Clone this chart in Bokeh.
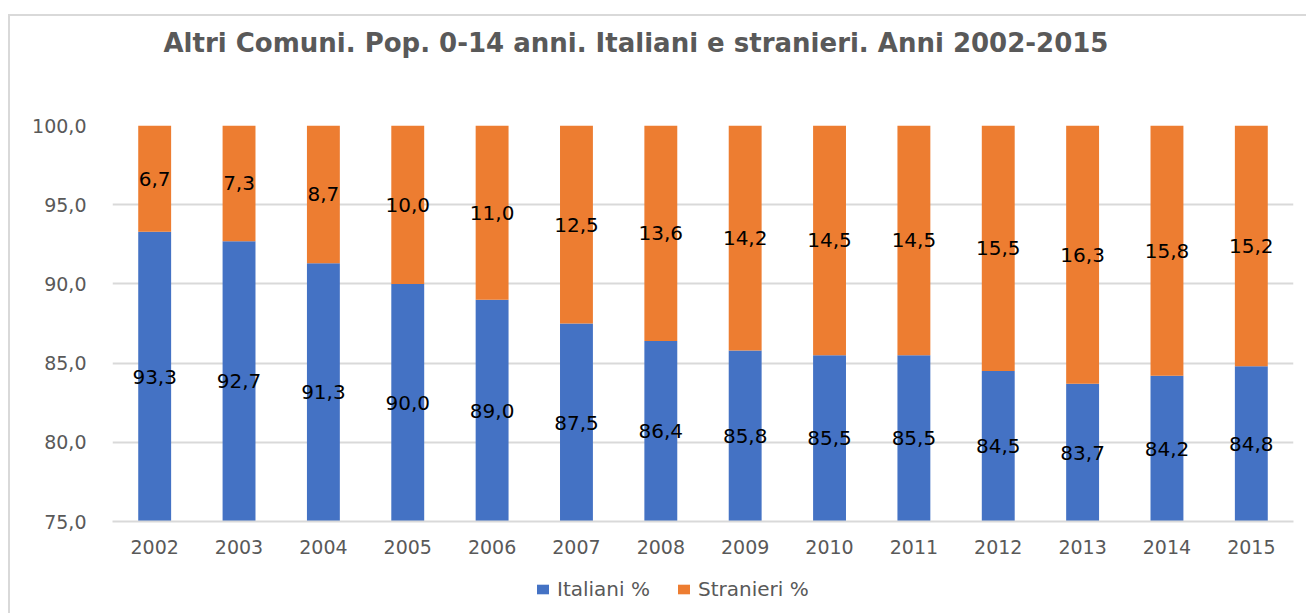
from bokeh.plotting import figure
from bokeh.layouts import column
from bokeh.models import (FactorRange, FixedTicker, CustomJSTickFormatter, Title,
                          Legend, LegendItem, ColumnDataSource)
from bokeh.core.properties import value
from bokeh.embed import file_html
from bokeh.resources import INLINE

years = ["2002", "2003", "2004", "2005", "2006", "2007", "2008",
         "2009", "2010", "2011", "2012", "2013", "2014", "2015"]
italiani = [93.3, 92.7, 91.3, 90.0, 89.0, 87.5, 86.4, 85.8, 85.5, 85.5, 84.5, 83.7, 84.2, 84.8]
stranieri = [6.7, 7.3, 8.7, 10.0, 11.0, 12.5, 13.6, 14.2, 14.5, 14.5, 15.5, 16.3, 15.8, 15.2]
y_ticks = [75, 80, 85, 90, 95, 100]
title_text = "Altri Comuni. Pop. 0-14 anni. Italiani e stranieri. Anni 2002-2015"
series_names = ["Italiani %", "Stranieri %"]

BLUE = "#4472C4"
ORANGE = "#ED7D31"
GRAY_TEXT = "#595959"
GRID = "#D9D9D9"
FONT = "DejaVu Sans"

y_min, y_max = y_ticks[0], y_ticks[-1]

p = figure(x_range=FactorRange(*years), y_range=(y_min, y_max),
           frame_width=1181, frame_height=396,
           output_backend="svg", toolbar_location=None,
           min_border_left=102, min_border_right=13, min_border_top=109,
           min_border_bottom=46, title=None)
p.outline_line_color = None
p.background_fill_color = "white"
p.border_fill_color = "white"

src = ColumnDataSource(dict(
    year=years,
    ital_top=italiani,
    stra_bottom=italiani,
    stra_top=[a + b for a, b in zip(italiani, stranieri)],
    ital_lab=[f"{v:.1f}".replace(".", ",") for v in italiani],
    stra_lab=[f"{v:.1f}".replace(".", ",") for v in stranieri],
    ital_y=[(y_min + v) / 2 for v in italiani],
    stra_y=[a + b / 2 for a, b in zip(italiani, stranieri)],
))

p.vbar(x="year", bottom=0, top="ital_top", width=0.39, source=src,
       fill_color=BLUE, line_color=None)
p.vbar(x="year", bottom="stra_bottom", top="stra_top", width=0.39, source=src,
       fill_color=ORANGE, line_color=None)

for col_y, col_t in (("ital_y", "ital_lab"), ("stra_y", "stra_lab")):
    p.text(x="year", y=col_y, text=col_t, source=src, text_align="center",
           text_baseline="middle", text_font=value(FONT), text_font_size="20px",
           text_color="#000000")

# axes
p.yaxis.ticker = FixedTicker(ticks=y_ticks)
p.yaxis.formatter = CustomJSTickFormatter(code="return tick.toFixed(1).replace('.', ',');")
p.yaxis.axis_line_color = None
p.yaxis.major_tick_line_color = None
p.yaxis.minor_tick_line_color = None
p.yaxis.major_label_text_font = FONT
p.yaxis.major_label_text_font_size = "19px"
p.yaxis.major_label_text_color = GRAY_TEXT
p.yaxis.major_label_standoff = 20

p.xaxis.axis_line_color = GRID
p.xaxis.axis_line_width = 2
p.xaxis.major_tick_line_color = None
p.xaxis.minor_tick_line_color = None
p.xaxis.major_tick_out = 0
p.xaxis.major_label_text_font = FONT
p.xaxis.major_label_text_font_size = "19px"
p.xaxis.major_label_text_color = GRAY_TEXT
p.xaxis.major_label_standoff = 18

p.xgrid.grid_line_color = None
p.ygrid.grid_line_color = GRID
p.ygrid.grid_line_width = 2

# title (a blank spacer title keeps the real title away from the frame)
p.add_layout(Title(text=" ", standoff=55, text_font=FONT, text_font_size="10px"), "above")
p.add_layout(Title(text=title_text, align="left", offset=51, standoff=0,
                   text_font=FONT, text_font_style="bold", text_font_size="26px",
                   text_color=GRAY_TEXT), "above")

# legend strip (separate small figure underneath; its bars lie below its visible range)
leg = figure(width=1296, height=46, output_backend="svg", toolbar_location=None,
             x_axis_type=None, y_axis_type=None, title=None,
             min_border_left=0, min_border_right=0, min_border_top=0,
             min_border_bottom=0, x_range=FactorRange(*years),
             y_range=(y_max, y_max + 1))
leg.outline_line_color = None
leg.background_fill_color = "white"
leg.border_fill_color = "white"
lr1 = leg.vbar(x="year", bottom=0, top="ital_top", width=0.39, source=src,
               fill_color=BLUE, line_color=None)
lr2 = leg.vbar(x="year", bottom=0, top="stra_bottom", width=0.39, source=src,
               fill_color=ORANGE, line_color=None)
legend = Legend(items=[LegendItem(label=series_names[0], renderers=[lr1]),
                       LegendItem(label=series_names[1], renderers=[lr2])],
                orientation="horizontal", location=(423, 12),
                label_text_font=FONT, label_text_font_size="20px",
                label_text_color=GRAY_TEXT, glyph_width=15, glyph_height=12,
                spacing=26, padding=0, margin=0, label_standoff=7,
                background_fill_alpha=0, border_line_color=None)
leg.add_layout(legend, "center")

layout = column(p, leg, spacing=0,
                styles={"margin-left": "8px", "margin-top": "14px",
                        "border-top": "2px solid #D9D9D9",
                        "border-left": "2px solid #D9D9D9"})

open("out.html", "w").write(file_html(layout, INLINE))
